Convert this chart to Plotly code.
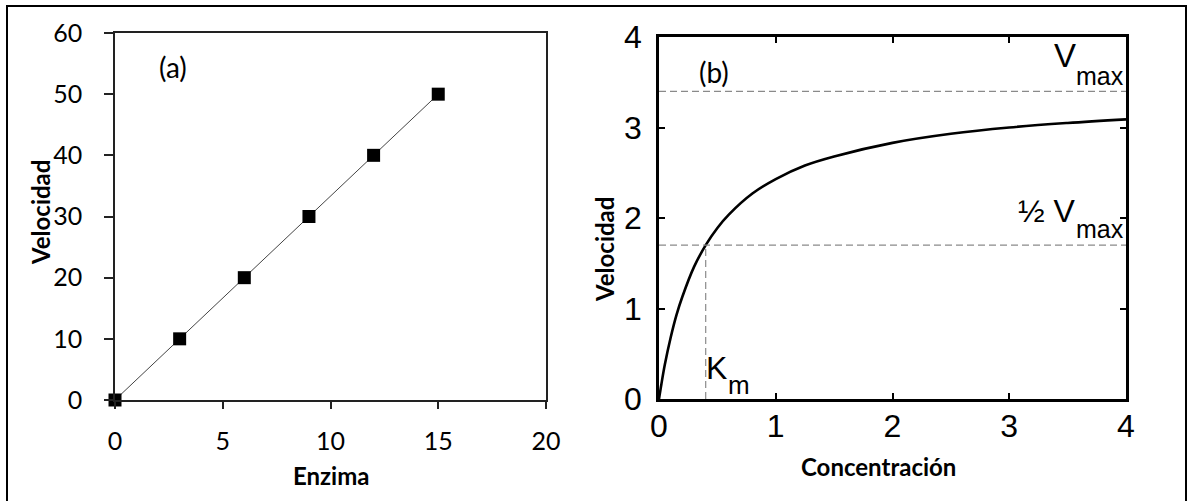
import plotly.graph_objects as go

# ---- Data ----
enzima = [0, 3, 6, 9, 12, 15]
velocidad_a = [0, 10, 20, 30, 40, 50]

conc = [0, 0.02, 0.05, 0.1, 0.15, 0.2, 0.3, 0.4, 0.5, 0.6, 0.8, 1.0, 1.25, 1.5, 2.0, 2.5, 3.0, 3.5, 4.0]
velocidad_b = [0, 0.16, 0.38, 0.68, 0.93, 1.13, 1.46, 1.70, 1.89, 2.04, 2.27, 2.43, 2.58, 2.68, 2.83, 2.93, 3.00, 3.05, 3.09]

vmax = 3.4
half_vmax = 1.7
km = 0.4

a_xticks = [0, 5, 10, 15, 20]
a_yticks = [0, 10, 20, 30, 40, 50, 60]
b_ticks = [0, 1, 2, 3, 4]

W, H = 1189, 501
def px_x(p):
    return p / W
def px_y(p):
    return (H - p) / H

calibri = "Lato, 'Open Sans', sans-serif"
helv = "'Liberation Sans', Arial, sans-serif"

fig = go.Figure()

fig.add_trace(go.Scatter(
    x=enzima, y=velocidad_a, mode="lines+markers",
    line=dict(color="#444444", width=1),
    marker=dict(symbol="square", size=13, color="black"),
    cliponaxis=False, xaxis="x", yaxis="y", showlegend=False))

fig.add_trace(go.Scatter(
    x=conc, y=velocidad_b, mode="lines", line_shape="spline",
    line=dict(color="black", width=2.6),
    xaxis="x2", yaxis="y2", showlegend=False))

dash = dict(color="#8a8a8a", width=1.2, dash="7px,4px")
fig.add_trace(go.Scatter(x=[0, 4], y=[vmax, vmax], mode="lines", line=dash,
                         xaxis="x2", yaxis="y2", showlegend=False))
fig.add_trace(go.Scatter(x=[0, 4], y=[half_vmax, half_vmax], mode="lines", line=dash,
                         xaxis="x2", yaxis="y2", showlegend=False))
fig.add_trace(go.Scatter(x=[km, km], y=[0, half_vmax], mode="lines", line=dash,
                         xaxis="x2", yaxis="y2", showlegend=False))

fig.update_layout(
    width=W, height=H,
    margin=dict(l=0, r=0, t=0, b=0, pad=0, autoexpand=False),
    paper_bgcolor="white", plot_bgcolor="white",
    xaxis=dict(domain=[px_x(115), px_x(546)], range=[0, 20], tickvals=a_xticks,
               showgrid=False, zeroline=False, showline=True, linecolor="#222",
               linewidth=1.5, mirror=True, ticks="outside", ticklen=7, tickwidth=1.5,
               tickcolor="#222", ticklabelstandoff=11, automargin=False,
               tickfont=dict(family=calibri, size=25, color="black"), anchor="y"),
    yaxis=dict(domain=[px_y(400), px_y(33)], range=[0, 60], tickvals=a_yticks,
               showgrid=False, zeroline=False, showline=True, linecolor="#222",
               linewidth=1.5, mirror=True, ticks="outside", ticklen=9, tickwidth=1.5,
               tickcolor="#222", ticklabelstandoff=17, automargin=False,
               tickfont=dict(family=calibri, size=25, color="black"), anchor="x"),
    xaxis2=dict(domain=[px_x(659), px_x(1126)], range=[0, 4], tickvals=b_ticks,
                showgrid=False, zeroline=False, showline=True, linecolor="black",
                linewidth=2.5, mirror="ticks", ticks="inside", ticklen=6, tickwidth=2,
                tickcolor="black", ticklabelstandoff=-3, automargin=False,
                tickfont=dict(family=helv, size=32, color="black"), anchor="y2"),
    yaxis2=dict(domain=[px_y(399), px_y(37)], range=[0, 4], tickvals=b_ticks,
                showgrid=False, zeroline=False, showline=True, linecolor="black",
                linewidth=2.5, mirror="ticks", ticks="inside", ticklen=6, tickwidth=2,
                tickcolor="black", ticklabelstandoff=8, automargin=False,
                tickfont=dict(family=helv, size=32, color="black"), anchor="x2"),
)

# outer border
fig.add_shape(type="rect", xref="paper", yref="paper",
              x0=px_x(7), x1=px_x(1186), y0=-0.05, y1=px_y(6),
              line=dict(color="black", width=2), fillcolor="rgba(0,0,0,0)")

def note(text, x, y, size, family, xanchor="center", yanchor="middle", angle=0):
    return dict(text=text, xref="paper", yref="paper", x=px_x(x), y=px_y(y), textangle=angle,
                xanchor=xanchor, yanchor=yanchor, showarrow=False,
                font=dict(family=family, size=size, color="black"))

ann = [
    note("<b>Velocidad</b>", 40, 213, 24, calibri, angle=-90),
    note("<b>Enzima</b>", 331, 475, 24, calibri),
    note("<b>Velocidad</b>", 604, 250, 24, calibri, angle=-90),
    note("<b>Concentración</b>", 878, 466, 24, calibri),
    note("(a)", 173, 67, 28, calibri),
    note("(b)", 714, 72, 28, calibri),
    # V_max (top)
    note("V", 1078, 55, 33, helv, xanchor="right"),
    note("max", 1074, 76, 25, helv, xanchor="left"),
    # 1/2 V_max
    note("½ V", 1078, 211, 32, helv, xanchor="right"),
    note("max", 1074, 229, 25, helv, xanchor="left"),
    # K_m
    note("K", 704, 368, 32, helv, xanchor="left"),
    note("m", 726, 385, 26, helv, xanchor="left"),
]
fig.update_layout(annotations=ann)

fig.write_html("out.html")
